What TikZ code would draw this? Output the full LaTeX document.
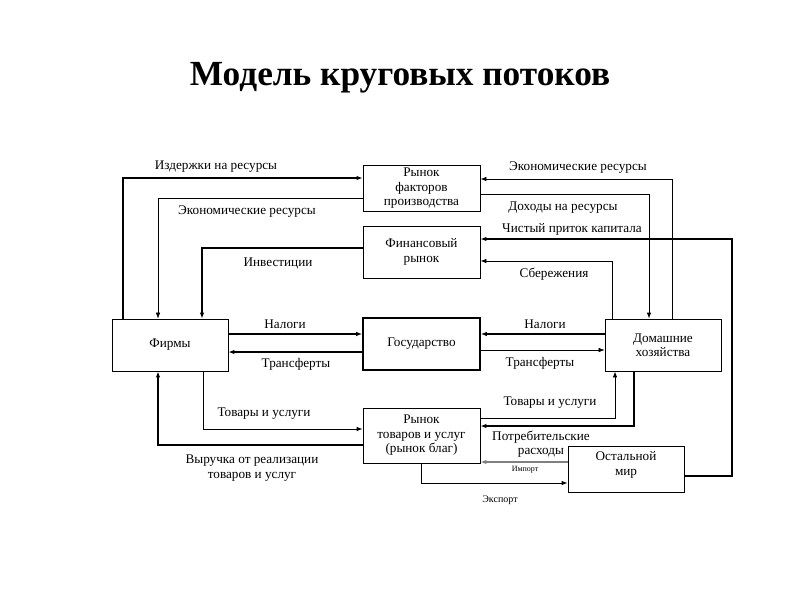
\documentclass[tikz,border=0pt]{standalone}
\usepackage{fontspec}
\setmainfont{Liberation Serif}
\usetikzlibrary{arrows.meta}
\newcommand\lblfont{\fontsize{13.2}{14.5}\selectfont}
\begin{document}
\begin{tikzpicture}[x=1pt,y=-1pt,
  box/.style={draw, line width=0.8pt, minimum width=117pt, align=center, font=\lblfont, inner sep=0pt},
  lab/.style={font=\lblfont, inner sep=0pt, align=center},
  arr/.style={-{Latex[length=6pt,width=4.5pt]}, line width=0.8pt},
  thk/.style={line width=1.6pt},
  mid/.style={line width=1.2pt},
  thn/.style={line width=0.6pt}]
\useasboundingbox (0,0) rectangle (800,600);
\node[font=\bfseries\fontsize{35.3}{40}\selectfont] (title) at (400,78) {Модель круговых потоков};
% boxes
\node[box, minimum height=46pt] (fac) at (421.5,188.5) {Рынок\\факторов\\производства};
\node[box, minimum height=52pt] (fin) at (421.5,252) {Финансовый\\рынок};
\node[box, minimum width=116pt, minimum height=52pt] (firm) at (170,345) {Фирмы};
\node[box, line width=1.6pt, minimum height=52pt] (gov) at (421.5,344) {Государство};
\node[box, minimum width=116pt, minimum height=52pt] (hh) at (663,345) {Домашние\\хозяйства};
\node[box, minimum height=55pt] (goods) at (421.5,435.5) {Рынок\\товаров и услуг\\(рынок благ)};
\node[box, minimum width=116pt, minimum height=46pt] (row) at (626,469) {};
\node[lab] (rowt) at (626,465) {Остальной\\мир};
% connectors
\draw[arr, mid] (firm.north -| 123,0) |- (fac.west |- 0,178);
\draw[arr, thn] (fac.west |- 0,198) -| (firm.north -| 158,0);
\draw[arr, thk] (fin.west |- 0,248) -| (firm.north -| 202,0);
\draw[arr] (hh.north -| 672,0) |- (fac.east |- 0,179);
\draw[arr] (fac.east |- 0,194) -| (hh.north -| 649,0);
\draw[arr, mid] (row.east |- 0,476) -- (732,476) |- (fin.east |- 0,239);
\draw[arr] (hh.north -| 612,0) |- (fin.east |- 0,261);
\draw[arr, mid] (firm.east |- 0,334) -- (gov.west |- 0,334);
\draw[arr, thk] (gov.west |- 0,352) -- (firm.east |- 0,352);
\draw[arr, thk] (hh.west |- 0,334) -- (gov.east |- 0,334);
\draw[arr, thn] (gov.east |- 0,350) -- (hh.west |- 0,350);
\draw[arr] (firm.south -| 203,0) |- (goods.west |- 0,429);
\draw[arr, thk] (goods.west |- 0,445) -| (firm.south -| 158,0);
\draw[arr] (goods.east |- 0,418) -| (hh.south -| 615,0);
\draw[arr, thk] (hh.south -| 634,0) |- (goods.east |- 0,426);
\draw[arr, line width=2pt, draw=gray] (row.west |- 0,462) -- (goods.east |- 0,462);
\draw[arr] (goods.south -| 421,0) |- (row.west |- 0,483);
% labels
\node[lab] (l1) at (216,167) {Издержки на ресурсы};
\node[lab] (l2) at (247,212) {Экономические ресурсы};
\node[lab] (l3) at (278,263) {Инвестиции};
\node[lab] (l4) at (578,168) {Экономические ресурсы};
\node[lab] (l5) at (563,208) {Доходы на ресурсы};
\node[lab] (l6) at (572,229) {Чистый приток капитала};
\node[lab] (l7) at (554,274) {Сбережения};
\node[lab] (l8) at (285,324) {Налоги};
\node[lab] (l9) at (296,364) {Трансферты};
\node[lab] (l10) at (264,414) {Товары и услуги};
\node[lab] (l11) at (252,468) {Выручка от реализации\\товаров и услуг};
\node[lab] (l12) at (545,324) {Налоги};
\node[lab] (l13) at (540,363) {Трансферты};
\node[lab] (l14) at (550,403) {Товары и услуги};
\node[lab] (l15) at (541,444) {Потребительские\\расходы};
\node[lab, font=\fontsize{8}{9}\selectfont] (l16) at (525,470) {Импорт};
\node[lab, font=\fontsize{10}{11}\selectfont] (l17) at (500,500) {Экспорт};
\end{tikzpicture}
\end{document}
